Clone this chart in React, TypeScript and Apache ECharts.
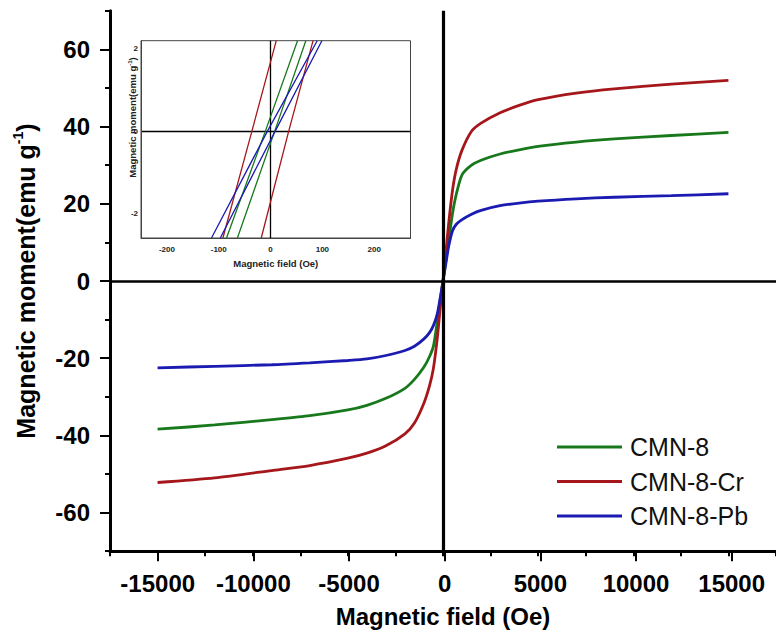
import React, { useEffect, useRef } from 'react';
import * as echarts from 'echarts';

// Main M-H curves (field in Oe, moment in emu/g)
const fieldOe = [-15000, -12000, -9000, -7000, -5000, -4000, -3000, -2000, -1500, -1000, -700, -500, -300, -150, 0, 150, 300, 500, 700, 1000, 1500, 2000, 3000, 4000, 5000, 7000, 9000, 12000, 15000];
const momentCMN8 = [-38.4, -37.3, -35.9, -34.9, -33.4, -32.2, -30.4, -27.8, -25.5, -22.3, -19.5, -16.8, -10.5, -5.0, 0, 5.2, 10.5, 17.5, 22.5, 27.5, 30.0, 31.3, 32.9, 34.0, 34.9, 36.0, 36.8, 37.7, 38.5];
const momentCMN8Cr = [-52.2, -51.0, -49.1, -47.8, -45.9, -44.6, -42.7, -39.6, -36.8, -31.6, -27.0, -22.5, -14.8, -7.2, 0, 7.3, 15.0, 23.5, 29.0, 33.9, 38.8, 40.9, 43.6, 45.5, 47.0, 48.7, 49.8, 51.0, 52.0];
const momentCMN8Pb = [-22.5, -22.1, -21.7, -21.2, -20.6, -20.2, -19.3, -18.0, -16.9, -15.0, -13.3, -11.5, -8.5, -4.5, 0, 4.5, 9.0, 13.0, 14.7, 15.9, 17.3, 18.3, 19.5, 20.2, 20.7, 21.3, 21.7, 22.1, 22.6];

const seriesNames = ['CMN-8', 'CMN-8-Cr', 'CMN-8-Pb'];
const seriesColors = ['#17791b', '#a5171b', '#1b1bb2'];

// Inset: low-field hysteresis branches [field Oe, moment emu/g]
const insetCMN8Desc = [[-85, -2.6], [-10, 0], [52, 2.2]];
const insetCMN8Asc = [[-64, -2.6], [8, 0], [68, 2.2]];
const insetCMN8CrDesc = [[-92, -2.6], [-36, 0], [11, 2.2]];
const insetCMN8CrAsc = [[-18, -2.6], [35, 0], [82, 2.2]];
const insetCMN8PbDesc = [[-114, -2.6], [-6, 0], [90, 2.2]];
const insetCMN8PbAsc = [[-97, -2.6], [9, 0], [99, 2.2]];

const FONT = '"Liberation Sans", Arial, Helvetica, sans-serif';

export default function App() {
  const ref = useRef<HTMLDivElement>(null);
  useEffect(() => {
    const chart = echarts.init(ref.current as HTMLDivElement, null, { renderer: 'svg' });
    const pair = (ys: number[]) => fieldOe.map((h, i) => [h, ys[i]]);
    const mainData = [momentCMN8, momentCMN8Cr, momentCMN8Pb];
    const insetData = [
      [insetCMN8Desc, insetCMN8Asc],
      [insetCMN8CrDesc, insetCMN8CrAsc],
      [insetCMN8PbDesc, insetCMN8PbAsc],
    ];

    const mainSeries: any[] = mainData.map((ys, i) => ({
      name: seriesNames[i],
      type: 'line',
      xAxisIndex: 0,
      yAxisIndex: 0,
      data: pair(ys),
      showSymbol: false,
      symbol: 'none',
      smooth: 0.25,
      lineStyle: { color: seriesColors[i], width: 2.8 },
      itemStyle: { color: seriesColors[i] },
      z: 3,
    }));
    mainSeries.unshift({
      name: 'zero-lines',
      type: 'line',
      xAxisIndex: 0,
      yAxisIndex: 0,
      data: [],
      silent: true,
      markLine: {
        silent: true,
        symbol: ['none', 'none'],
        label: { show: false },
        lineStyle: { color: '#000', width: 2.5, type: 'solid' },
        data: [
          { yAxis: 0, lineStyle: { color: '#000', width: 2.5, type: 'solid' } },
          { xAxis: 0, lineStyle: { color: '#000', width: 3.2, type: 'solid' } },
        ],
      },
      z: 2,
    });

    const insetSeries: any[] = [];
    insetData.forEach((branches, i) => {
      branches.forEach((br, j) => {
        insetSeries.push({
          name: `inset-${i}-${j}`,
          type: 'line',
          xAxisIndex: 2,
          yAxisIndex: 2,
          data: br,
          showSymbol: false,
          symbol: 'none',
          lineStyle: { color: seriesColors[i], width: 1.3 },
          z: 5,
        });
      });
    });
    insetSeries.push({
      name: 'inset-zero',
      type: 'line',
      xAxisIndex: 2,
      yAxisIndex: 2,
      data: [],
      silent: true,
      markLine: {
        silent: true,
        symbol: ['none', 'none'],
        label: { show: false },
        lineStyle: { color: '#000', width: 1.3, type: 'solid' },
        data: [{ yAxis: 0 }, { xAxis: 0 }],
      },
      z: 4,
    });

    const near = (a: number, b: number) => Math.abs(a - b) < 1e-6;

    const option: any = {
      animation: false,
      backgroundColor: '#fff',
      textStyle: { fontFamily: FONT },
      legend: {
        data: seriesNames,
        orient: 'vertical',
        left: 557,
        top: 432,
        padding: 0,
        icon: 'rect',
        itemWidth: 65,
        itemHeight: 3,
        itemGap: 4.5,
        textStyle: { fontFamily: FONT, fontSize: 25, color: '#111', lineHeight: 30, padding: [0, 0, 0, 3] },
        selectedMode: false,
      },
      grid: [
        { left: 110, top: 10.8, width: 669.5, height: 540.4 },
        { left: 157.7, top: 49.4, width: 574, height: 463.2 },
        { left: 141, top: 40.7, width: 269.5, height: 197.3, show: true, borderColor: '#444', borderWidth: 1, backgroundColor: '#fff', z: 4 },
      ],
      graphic: [
        {
          type: 'text',
          x: 132,
          y: 117.5,
          rotation: Math.PI / 2,
          z: 20,
          style: {
            text: '{a|Magnetic moment(emu g}{s|-1}{a|)}',
            align: 'center',
            verticalAlign: 'middle',
            rich: {
              a: { fontFamily: FONT, fontSize: 9.5, fontWeight: 'bold', fill: '#222', lineHeight: 11 },
              s: { fontFamily: FONT, fontSize: 6, fontWeight: 'bold', fill: '#222', lineHeight: 6, verticalAlign: 'top' },
            },
          },
        },
      ],
      xAxis: [
        {
          gridIndex: 0, type: 'value', min: -17500, max: 17500, interval: 2500,
          axisLine: { onZero: false, lineStyle: { color: '#000', width: 3 } },
          axisTick: { length: 5, lineStyle: { color: '#000', width: 2 } },
          axisLabel: { show: false },
          splitLine: { show: false },
          name: 'Magnetic field (Oe)',
          nameLocation: 'middle',
          nameGap: 53,
          nameTextStyle: { fontFamily: FONT, fontSize: 24, fontWeight: 'bold', color: '#000' },
        },
        {
          gridIndex: 1, type: 'value', min: -15000, max: 15000, interval: 5000, offset: 38.6,
          axisLine: { show: false, onZero: false },
          axisTick: { length: 10, lineStyle: { color: '#000', width: 2 } },
          axisLabel: { margin: 20, fontFamily: FONT, fontSize: 24, fontWeight: 'bold', color: '#000', formatter: (v: number) => String(v) },
          splitLine: { show: false },
        },
        {
          gridIndex: 2, type: 'value', min: -250, max: 270, interval: 50,
          axisLine: { onZero: false, lineStyle: { color: '#444', width: 1 } },
          axisTick: { show: false },
          axisLabel: {
            margin: 7, fontFamily: FONT, fontSize: 8, fontWeight: 'bold', color: '#222',
            formatter: (v: number) => (near(v % 100, 0) && Math.abs(v) <= 200 ? String(v) : ''),
          },
          splitLine: { show: false },
          name: 'Magnetic field (Oe)',
          nameLocation: 'middle',
          nameGap: 20,
          nameTextStyle: { fontFamily: FONT, fontSize: 9.5, fontWeight: 'bold', color: '#222' },
          z: 6,
        },
      ],
      yAxis: [
        {
          gridIndex: 0, type: 'value', min: -70, max: 70, interval: 10,
          axisLine: { onZero: false, lineStyle: { color: '#000', width: 3 } },
          axisTick: { length: 5, lineStyle: { color: '#000', width: 2 } },
          axisLabel: { show: false },
          splitLine: { show: false },
          name: '{a|Magnetic moment(emu g}{s|-1}{a|)}',
          nameLocation: 'middle',
          nameRotate: 90,
          nameGap: 70,
          nameTextStyle: {
            color: '#000',
            rich: {
              a: { fontFamily: FONT, fontSize: 25, fontWeight: 'bold', color: '#000', lineHeight: 29 },
              s: { fontFamily: FONT, fontSize: 14, fontWeight: 'bold', color: '#000', lineHeight: 14, verticalAlign: 'top' },
            },
          },
        },
        {
          gridIndex: 1, type: 'value', min: -60, max: 60, interval: 20, offset: 47.7,
          axisLine: { show: false, onZero: false },
          axisTick: { length: 10, lineStyle: { color: '#000', width: 2 } },
          axisLabel: { margin: 20, fontFamily: FONT, fontSize: 24, fontWeight: 'bold', color: '#000', formatter: (v: number) => String(v) },
          splitLine: { show: false },
        },
        {
          gridIndex: 2, type: 'value', min: -2.6, max: 2.2, interval: 0.2,
          axisLine: { onZero: false, lineStyle: { color: '#444', width: 1 } },
          axisTick: { show: false },
          axisLabel: {
            margin: 3, fontFamily: FONT, fontSize: 8, fontWeight: 'bold', color: '#222',
            formatter: (v: number) => (near(v, 0) || near(Math.abs(v), 2) ? String(Math.round(v)) : ''),
          },
          splitLine: { show: false },
          z: 6,
        },
      ],
      series: [...mainSeries, ...insetSeries],
    };
    chart.setOption(option);
    return () => chart.dispose();
  }, []);
  return (
    <div
      ref={ref}
      style={{ position: 'fixed', left: 0, top: 0, width: 776, height: 640, background: '#fff' }}
    />
  );
}
